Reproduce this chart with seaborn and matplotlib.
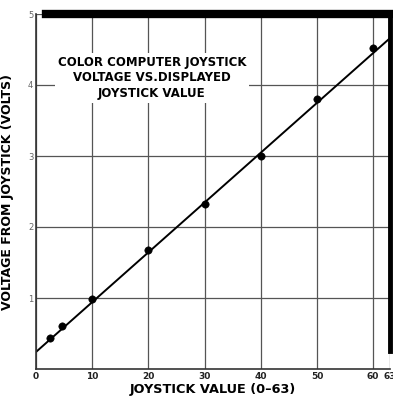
import matplotlib
matplotlib.use("Agg")
import matplotlib.pyplot as plt
import seaborn as sns
import pandas as pd

joystick_value = [2.5, 4.7, 10, 20, 30, 40, 50, 60]
voltage = [0.44, 0.60, 0.98, 1.67, 2.33, 3.00, 3.80, 4.52]

# hand-drawn fit line endpoints
fit_x = [0, 63]
fit_y = [0.24, 4.66]

x_ticks = [0, 10, 20, 30, 40, 50, 60, 63]
x_tick_labels = ["0", "10", "20", "30", "40", "50", "60", "63"]
y_ticks = [1, 2, 3, 4, 5]
y_tick_labels = ["1", "2", "3", "4", "5"]

title_lines = ["COLOR COMPUTER JOYSTICK", "VOLTAGE VS.DISPLAYED", "JOYSTICK VALUE"]

df_pts = pd.DataFrame({"x": joystick_value, "y": voltage})
df_fit = pd.DataFrame({"x": fit_x, "y": fit_y})

sns.set_style("white")
plt.rcParams["font.family"] = ["DejaVu Sans"]
plt.rcParams["text.color"] = "black"
plt.rcParams["axes.labelcolor"] = "black"

fig = plt.figure(figsize=(3.93, 3.97), dpi=100)
ax = fig.add_axes([36 / 393, 28 / 397, 354 / 393, 355 / 397])

ax.grid(True, color="#555555", linewidth=0.9)
ax.set_axisbelow(True)

sns.lineplot(data=df_fit, x="x", y="y", ax=ax, color="black", linewidth=1.4)
sns.scatterplot(data=df_pts, x="x", y="y", ax=ax, color="black", s=28,
                edgecolor="black", zorder=5)

ax.set_xlim(0, 63)
ax.set_ylim(0, 5)
ax.set_xticks(x_ticks)
ax.set_xticklabels(x_tick_labels, fontsize=6.5, fontweight="bold", color="#222222")
ax.set_yticks(y_ticks)
ax.set_yticklabels(y_tick_labels, fontsize=6, color="#666666")
ax.tick_params(axis="both", length=0, pad=2)

ax.set_xlabel("JOYSTICK VALUE (0\u201363)", fontsize=9.3, fontweight="bold", va="center")
ax.xaxis.set_label_coords(0.5, -0.057)
ax.set_ylabel("VOLTAGE FROM JOYSTICK (VOLTS)", fontsize=9, fontweight="bold", labelpad=10)

for side in ["left", "bottom"]:
    ax.spines[side].set_color("#333333")
    ax.spines[side].set_linewidth(1.2)
ax.spines["top"].set_linewidth(6)
ax.spines["top"].set_color("black")
ax.spines["top"].set_bounds(1.8, 63)
ax.spines["right"].set_linewidth(3.5)
ax.spines["right"].set_color("black")
ax.spines["right"].set_bounds(0.25, 5)

ax.text(20.6, 4.1, "\n".join(title_lines), ha="center", va="center",
        fontsize=8.5, fontweight="bold", linespacing=1.25, color="black",
        bbox=dict(facecolor="white", edgecolor="none", pad=2), zorder=4)

fig.savefig("out.png", dpi=100)
